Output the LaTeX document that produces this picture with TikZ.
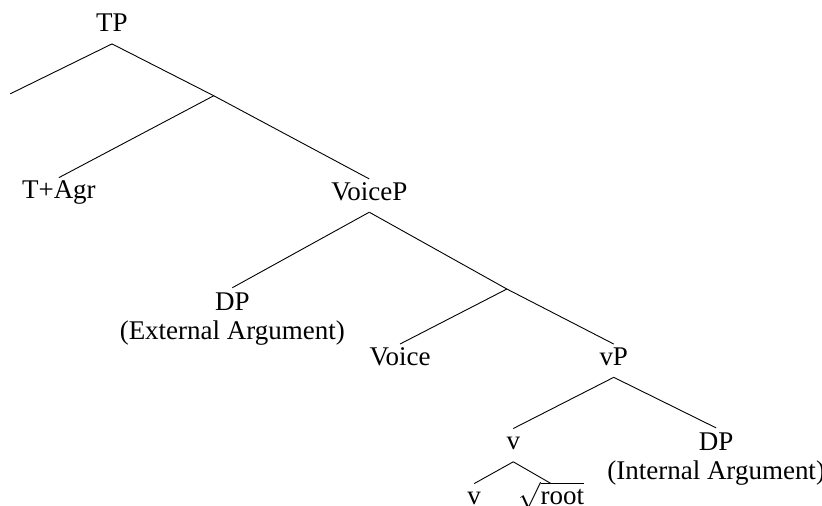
\documentclass[tikz,border=0pt]{standalone}
\usepackage{fontspec}
\setmainfont{Liberation Serif}
\begin{document}
\begin{tikzpicture}[syn/.style={anchor=base, inner sep=2.2pt, text height=0.7em, text depth=0.3em, font=\fontsize{12}{12.8}\selectfont},
	synarg/.style={anchor=north, align=center, inner sep=2.2pt, font=\fontsize{12}{12.8}\selectfont}]
\useasboundingbox (0, 0) rectangle (12.844, 7.906);
\node (tp) [syn] at (1.75, 7.41) {TP};
\node (tagr) [syn] at (0.92, 4.80) {T+Agr};
\node (voicep) [syn] at (5.77, 4.78) {VoiceP};
\node (dpext) [synarg] at (3.63, 3.41) {DP \\ (External Argument)};
\node (voice) [syn] at (6.25, 2.20) {Voice};
\node (vp) [syn] at (9.59, 2.20) {vP};
\node (vhead) [syn] at (8.02, 0.88) {v};
\node (dpint) [synarg] at (11.19, 1.22) {DP \\ (Internal Argument)};
\node (vlow) [syn] at (7.41, 0.02) {v};
\node (root) [syn] at (8.61, 0.02) {$\sqrt{\mbox{root}}$};
\coordinate (tspec) at (0.16, 6.44);
\coordinate (tbar) at (3.34, 6.41);
\coordinate (voicebar) at (7.92, 3.39);
\draw [black] (tp.south) -- (tspec);
\draw [black] (tp.south) -- (tbar) -- (voicep.north);
\draw [black] (tbar) -- (tagr.north);
\draw [black] (voicep.south) -- (dpext.north);
\draw [black] (voicep.south) -- (voicebar) -- (vp.north);
\draw [black] (voicebar) -- (voice.north);
\draw [black] (vp.south) -- (vhead.north);
\draw [black] (vp.south) -- (dpint.north);
\draw [black] (vhead.south) -- (vlow.north);
\draw [black] (vhead.south) -- (root.north);
\end{tikzpicture}
\end{document}
